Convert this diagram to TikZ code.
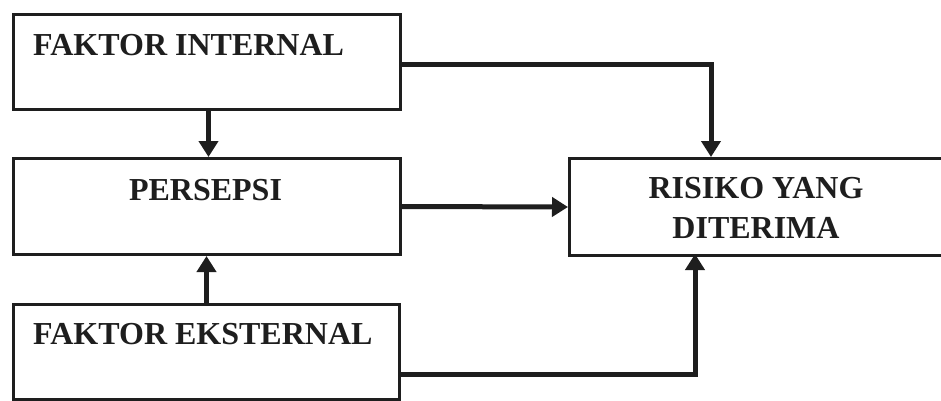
\documentclass[tikz,border=0pt]{standalone}
\usepackage{fontspec}
\setmainfont{Liberation Serif}
\usetikzlibrary{arrows.meta}
\definecolor{ink}{HTML}{1E1E1E}
\begin{document}
\begin{tikzpicture}[x=1pt, y=-1pt,
  box/.style={draw=ink, line width=3pt, rectangle, inner sep=0pt, anchor=north west},
  label/.style={inner sep=0pt, text=ink, font=\fontsize{32}{40}\selectfont\bfseries},
  flow/.style={draw=ink, line width=5pt,
    -{Triangle[length=16pt, width=19pt]}}]
  % page frame and clipping, so the right box runs off the edge
  \useasboundingbox (0,0) rectangle (941,400);
  \clip (0,0) rectangle (941,400);
  \fill[white] (0,0) rectangle (941,400);

  % boxes
  \node[box, minimum width=387pt, minimum height=95pt] (internal) at (12,13) {};
  \node[box, minimum width=387pt, minimum height=96pt] (persepsi) at (12,157) {};
  \node[box, minimum width=386pt, minimum height=95pt] (eksternal) at (12,303) {};
  \node[box, minimum width=380pt, minimum height=97pt] (risiko) at (568,157) {};

  % box texts
  \node[label, anchor=base west] (tInternal) at (33,55) {FAKTOR INTERNAL};
  \node[label, anchor=base] (tPersepsi) at (205.5,200) {PERSEPSI};
  \node[label, anchor=base west] (tEksternal) at (33,344) {FAKTOR EKSTERNAL};
  \node[label, anchor=base] (tRisiko1) at (756,198) {RISIKO YANG};
  \node[label, anchor=base] (tRisiko2) at (756,238) {DITERIMA};

  % entry points on the right box
  \coordinate (inTop) at (711,157);
  \coordinate (inBot) at (695,254);

  % connectors
  \draw[flow] ([xshift=1.5pt]internal.south) -- ([xshift=1.5pt]internal.south |- persepsi.north);
  \draw[flow] (eksternal.north) -- (eksternal.north |- persepsi.south);
  \draw[flow] ([yshift=-2.5pt]internal.east) -| (inTop);
  \draw[flow] (persepsi.east) -- (risiko.west);
  \draw[flow] ([yshift=-22.5pt]eksternal.east) -| (inBot);
\end{tikzpicture}
\end{document}
